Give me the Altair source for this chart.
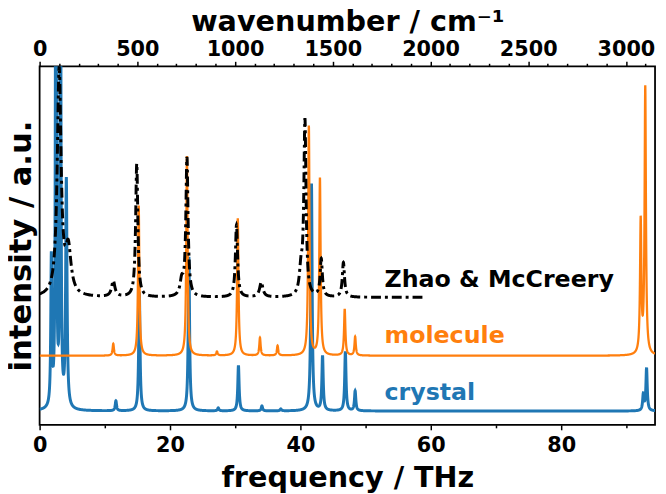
import altair as alt
import numpy as np
import pandas as pd

# ---- values (frequency in THz, intensity in a.u.) ----
X_MAX = 94.4                      # right edge of the frequency axis (THz)
THZ_TO_WN = 33.356                # 1 THz in cm^-1
Y_MAX = 363

crystal_offset = 14
crystal_centers = [1.8, 2.5, 3.2, 4.1, 11.7, 15.3, 22.9, 27.4, 30.5, 34.1, 37.0,
                   41.7, 43.4, 46.9, 48.4, 92.6, 93.1]
crystal_heights = [150, 700, 600, 230, 10, 120, 156, 3, 46, 5, 2,
                   230, 55, 60, 20, 16, 43]
crystal_widths = [0.1, 0.08, 0.08, 0.12, 0.12, 0.12, 0.12, 0.12, 0.12, 0.12, 0.12,
                  0.12, 0.12, 0.12, 0.12, 0.12, 0.12]

molecule_offset = 70
molecule_centers = [11.3, 15.2, 22.6, 27.2, 30.4, 33.8, 36.5, 41.3, 43.0, 46.8,
                    48.4, 92.2, 92.9]
molecule_heights = [12, 152, 202, 4, 139, 18, 10, 232, 179, 47, 19, 134, 270]
molecule_widths = [0.12] * 13

experiment_offset = 129
experiment_end = 59.2
experiment_centers = [3.0, 4.4, 11.3, 14.9, 21.8, 22.6, 30.2, 34.0, 40.1, 40.7,
                      43.2, 46.6]
experiment_heights = [228, 45, 16, 135, 15, 140, 73, 15, 25, 176, 38, 35]
experiment_widths = [0.35, 0.5, 0.3, 0.2, 0.3, 0.2, 0.2, 0.3, 0.3, 0.2, 0.2, 0.2]

label_texts = ["Zhao & McCreery", "molecule", "crystal"]
label_freq = [52.9, 52.9, 52.9]
label_int = [147, 90, 32]
label_colors = ["#000000", "#ff7f0e", "#1f77b4"]

freq_ticks = list(range(0, 95, 5))
wn_ticks = list(range(0, 3149, 100))


def spectrum(centers, heights, widths, offset, xmax):
    grid = [np.arange(0, xmax + 1e-9, 0.1)]
    for c in centers:
        grid.append(np.arange(c - 2.0, c + 2.0, 0.01))
    x = np.unique(np.round(np.concatenate(grid), 3))
    x = x[(x >= 0) & (x <= xmax)]
    y = np.full_like(x, float(offset))
    for c, h, w in zip(centers, heights, widths):
        y += h / (1 + ((x - c) / w) ** 2)
    return pd.DataFrame({"freq": x, "intensity": y})


crystal_df = spectrum(crystal_centers, crystal_heights, crystal_widths, crystal_offset, X_MAX)
molecule_df = spectrum(molecule_centers, molecule_heights, molecule_widths, molecule_offset, X_MAX)
experiment_df = spectrum(experiment_centers, experiment_heights, experiment_widths,
                         experiment_offset, experiment_end)

FONT = "DejaVu Sans"

x_scale = alt.Scale(domain=[0, X_MAX], nice=False, zero=False)
y_scale = alt.Scale(domain=[0, Y_MAX], nice=False, zero=False)

x_axis = alt.Axis(
    title="frequency / THz", values=freq_ticks, format="d",
    labelExpr="datum.value % 20 === 0 ? datum.label : ''",
    tickSize={"condition": {"test": "datum.value % 20 === 0", "value": 5}, "value": 3},
    tickWidth=1.5, tickColor="black", labelFlush=False, labelOverlap=False,
    labelFontSize=21, labelFontWeight="bold", labelColor="black", labelPadding=5,
    titleFontSize=29, titleFontWeight="bold", titleColor="black", titlePadding=8,
    grid=False, domain=False, orient="bottom",
)
y_axis = alt.Axis(
    title="intensity / a.u.", labels=False, ticks=False, domain=False, grid=False,
    titleFontSize=31, titleFontWeight="bold", titleColor="black", titlePadding=2,
)

base_x = alt.X("freq:Q", scale=x_scale, axis=x_axis)
base_y = alt.Y("intensity:Q", scale=y_scale, axis=y_axis)

crystal = alt.Chart(crystal_df).mark_line(color="#1f77b4", strokeWidth=3, clip=True).encode(
    x=base_x, y=base_y)
molecule = alt.Chart(molecule_df).mark_line(color="#ff7f0e", strokeWidth=2.3, clip=True).encode(
    x=alt.X("freq:Q", scale=x_scale), y=alt.Y("intensity:Q", scale=y_scale))
experiment = alt.Chart(experiment_df).mark_line(
    color="black", strokeWidth=3, strokeDash=[10, 4, 3, 4], clip=True).encode(
    x=alt.X("freq:Q", scale=x_scale), y=alt.Y("intensity:Q", scale=y_scale))

labels_df = pd.DataFrame({"label": label_texts, "freq": label_freq,
                          "intensity": label_int, "color": label_colors})
labels = alt.Chart(labels_df).mark_text(
    align="left", baseline="middle", fontSize=24, fontWeight="bold", font=FONT).encode(
    x=alt.X("freq:Q", scale=x_scale), y=alt.Y("intensity:Q", scale=y_scale),
    text="label:N", color=alt.Color("color:N", scale=None))

main = alt.layer(crystal, molecule, experiment, labels)

top_df = pd.DataFrame({"wavenumber": [0, X_MAX * THZ_TO_WN]})
top = alt.Chart(top_df).mark_point(opacity=0).encode(
    x=alt.X("wavenumber:Q",
            scale=alt.Scale(domain=[0, X_MAX * THZ_TO_WN], nice=False, zero=False),
            axis=alt.Axis(
                title="wavenumber / cm⁻¹", orient="top", values=wn_ticks, format="d",
                labelExpr="datum.value % 500 === 0 ? datum.label : ''",
                tickSize={"condition": {"test": "datum.value % 500 === 0", "value": 5}, "value": 3},
                tickWidth=1.5, tickColor="black", labelFlush=False, labelOverlap=False,
                labelFontSize=21, labelFontWeight="bold", labelColor="black", labelPadding=2,
                titleFontSize=29, titleFontWeight="bold", titleColor="black", titlePadding=2,
                grid=False, domain=False)),
)

chart = alt.layer(main, top).resolve_scale(x="independent").properties(
    width=623, height=363,
    autosize=alt.AutoSizeParams(type="none"),
    padding={"left": 32, "top": 56, "right": 3, "bottom": 66},
).configure(font=FONT).configure_view(stroke="black", strokeWidth=1.8)

chart.save("out.html", embed_options={"renderer": "svg", "actions": False})
